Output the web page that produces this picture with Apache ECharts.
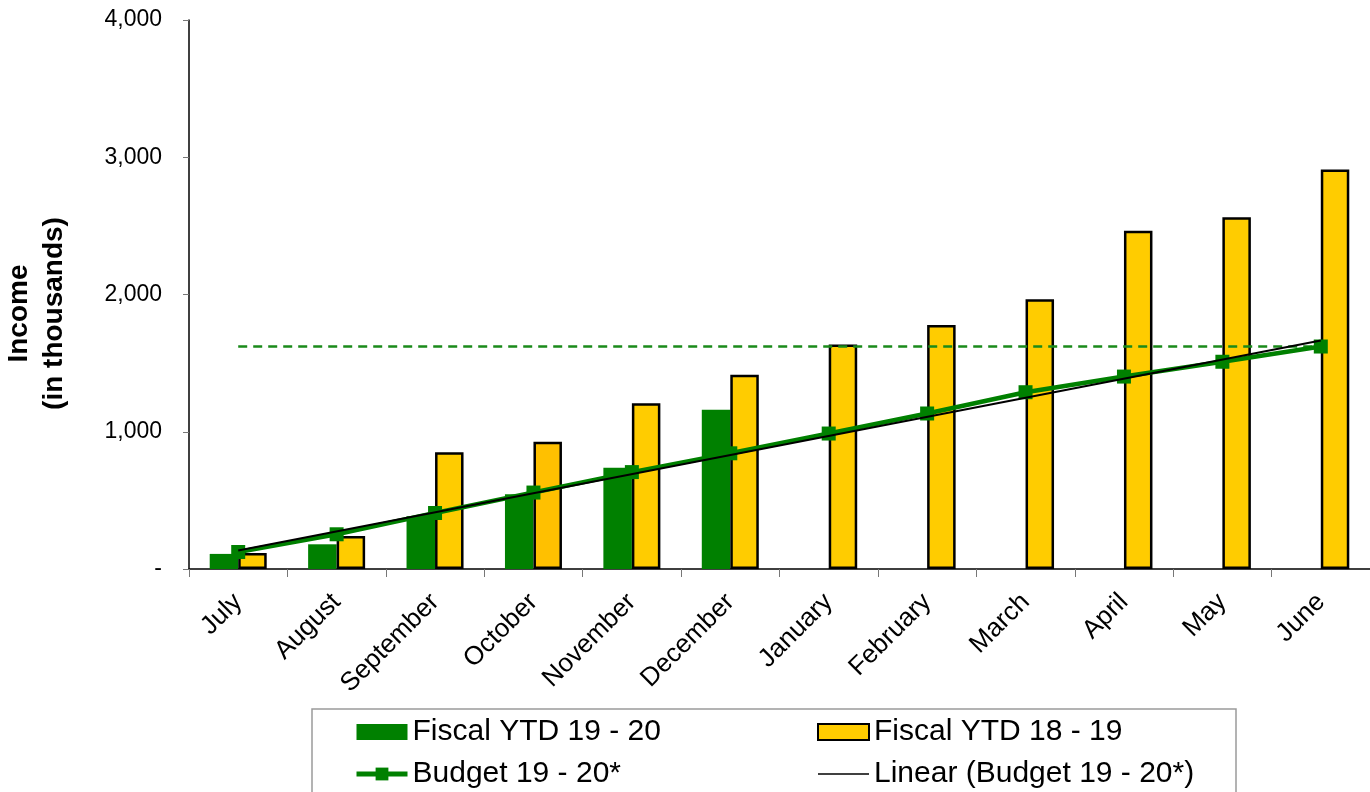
<!DOCTYPE html>
<html>
<head>
<meta charset="utf-8">
<style>
html,body{margin:0;padding:0;background:#fff;}
#chart{width:1370px;height:792px;}
</style>
<script src="https://cdn.jsdelivr.net/npm/echarts@6/dist/echarts.min.js"></script>
</head>
<body>
<div id="chart"></div>
<script>
var months = ['July','August','September','October','November','December','January','February','March','April','May','June'];
var fiscal1920 = [110, 180, 385, 545, 738, 1160, null, null, null, null, null, null];
var fiscal1819 = [117, 240, 850, 928, 1207, 1415, 1636, 1778, 1966, 2465, 2562, 2910];
var budget1920 = [124, 253, 408, 557, 706, 843, 987, 1133, 1288, 1402, 1510, 1621];
var linearEnds = [[0, 135], [11, 1665]];
var budgetTotalEnds = [[0, 1622], [11, 1622]];
var yTicks = [0, 1000, 2000, 3000, 4000];

var FONT = 'Liberation Sans, Arial, sans-serif';
var chart = echarts.init(document.getElementById('chart'), null, {renderer: 'canvas'});

var yellowData = fiscal1819.map(function (v, i) {
  if (months[i] === 'October') {
    return {value: v, itemStyle: {color: '#FFC000'}};
  }
  return v;
});

var legendText = {fontSize: 30, fontFamily: FONT, color: '#000', lineHeight: 30};

var option = {
  animation: false,
  backgroundColor: '#fff',
  grid: {left: 189, right: 0, top: 20, bottom: 223, containLabel: false, outerBoundsMode: 'none'},
  graphic: [{
    type: 'rect',
    shape: {x: 312, y: 709, width: 924, height: 120},
    style: {fill: 'none', stroke: '#9a9a9a', lineWidth: 1.5},
    z: -1
  }],
  legend: [{
    left: 354, top: 717, height: 120, orient: 'vertical', padding: 0,
    itemWidth: 51, itemHeight: 16, itemGap: 12,
    selectedMode: false,
    textStyle: legendText,
    data: [
      {name: 'Fiscal YTD 19 - 20', icon: 'rect'},
      {name: 'Budget 19 - 20*', lineStyle: {width: 5}}
    ]
  }, {
    left: 817, top: 717, height: 120, orient: 'vertical', padding: 0,
    itemWidth: 51, itemHeight: 16, itemGap: 12,
    selectedMode: false,
    textStyle: legendText,
    data: [
      {name: 'Fiscal YTD 18 - 19', icon: 'rect'},
      {name: 'Linear (Budget 19 - 20*)', itemStyle: {opacity: 0}, lineStyle: {width: 1.5, color: '#000'}}
    ]
  }],
  xAxis: {
    type: 'category',
    data: months,
    boundaryGap: true,
    axisLine: {show: true, lineStyle: {color: '#000', width: 1.5}},
    axisTick: {show: true, alignWithLabel: false, length: 8, lineStyle: {color: '#777'}},
    axisLabel: {interval: 0, rotate: 45, fontSize: 26, fontFamily: FONT, color: '#000', margin: 29}
  },
  yAxis: {
    type: 'value',
    min: yTicks[0],
    max: yTicks[yTicks.length - 1],
    interval: yTicks[1] - yTicks[0],
    name: 'Income\n(in thousands)',
    nameLocation: 'middle',
    nameGap: 117,
    nameTextStyle: {fontSize: 28, fontWeight: 'bold', fontFamily: FONT, color: '#000', lineHeight: 35, padding: [0, 38, 0, 0]},
    axisLine: {show: true, lineStyle: {color: '#000', width: 1.5}},
    axisTick: {show: true, inside: false, length: 6, lineStyle: {color: '#777'}},
    splitLine: {show: false},
    axisLabel: {
      fontSize: 23, fontFamily: FONT, color: '#000', margin: 27,
      formatter: function (v) { return v === 0 ? '-' : v.toLocaleString('en-US'); }
    }
  },
  series: [{
    name: 'Fiscal YTD 19 - 20',
    type: 'bar',
    data: fiscal1920,
    barWidth: 28.5,
    barGap: '0%',
    itemStyle: {color: '#008000'},
    z: 2
  }, {
    name: 'Fiscal YTD 18 - 19',
    type: 'bar',
    data: yellowData,
    barWidth: 28.5,
    barGap: '0%',
    itemStyle: {color: '#FFCC00', borderColor: '#000', borderWidth: 2.5},
    z: 2
  }, {
    name: 'Budget total',
    type: 'line',
    data: budgetTotalEnds,
    symbol: 'none',
    lineStyle: {color: '#1a8a1a', width: 2.5, type: [9, 6]},
    z: 3
  }, {
    name: 'Budget 19 - 20*',
    type: 'line',
    data: budget1920,
    symbol: 'rect',
    symbolSize: 14,
    itemStyle: {color: '#008000'},
    lineStyle: {color: '#008000', width: 4.5},
    z: 4
  }, {
    name: 'Linear (Budget 19 - 20*)',
    type: 'line',
    data: linearEnds,
    symbol: 'none',
    itemStyle: {color: '#000'},
    lineStyle: {color: '#000', width: 2},
    z: 5
  }]
};
chart.setOption(option);
</script>
</body>
</html>
